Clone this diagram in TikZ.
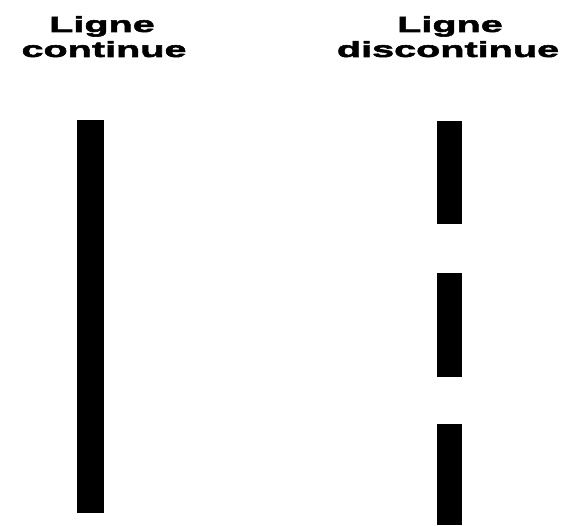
\documentclass[tikz,border=0pt]{standalone}
\usepackage{fontspec}
\newfontfamily\lab{Liberation Sans}[FakeStretch=1.8,FakeBold=2.5]
\begin{document}
\begin{tikzpicture}[x=1pt,y=1pt,
  lbl/.style={inner sep=0pt, anchor=base, font=\lab\bfseries\fontsize{22}{25}\selectfont},
  bar/.style={fill=black}]
\useasboundingbox (0,0) rectangle (561,525);
% titles
\node[lbl] (lt1) at (102,493) {Ligne};
\node[lbl] (lt2) at (104,468) {continue};
\node[lbl] (rt1) at (450,493) {Ligne};
\node[lbl] (rt2) at (448,468) {discontinue};
% solid line
\fill[bar] (77,12) rectangle (104,405);
% dashed line
\fill[bar] (437,301) rectangle (462,404);
\fill[bar] (437,148) rectangle (462,252);
\fill[bar] (437,0) rectangle (462,101);
\end{tikzpicture}
\end{document}
